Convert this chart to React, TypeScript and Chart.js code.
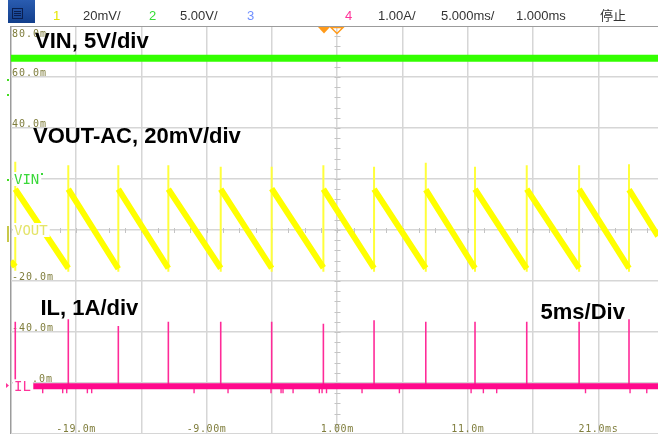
import React, { useEffect, useRef } from 'react';
import { Chart, registerables } from 'chart.js';

Chart.register(...registerables);

// ---- axes: time in ms, vertical in screen divisions ----
const timeStartMs = -24;
const timeEndMs = 25.56;
const divMin = -4;
const divMax = 4;
const gridTimesMs = [-24, -19, -14, -9, -4, 1, 6, 11, 16, 21];
const timeLabelValuesMs = [-19, -9, 1, 11, 21];
const timeLabelTexts = ['-19.0m', '-9.00m', '1.00m', '11.0m', '21.0ms'];
const scaleLabelDivs = [4, 3, 2, -1, -2, -3];
const scaleLabelTexts = ['80.0m', '60.0m', '40.0m', '-20.0m', '-40.0m', '.0m'];

// ---- header bar ----
const headerTexts = ['1', '20mV/', '2', '5.00V/', '3', '4', '1.00A/', '5.000ms/', '1.000ms', '停止'];
const headerColors = ['#e6e600', '#333333', '#33dd33', '#333333', '#6f8fff', '#ff3399', '#333333', '#333333', '#333333', '#333333'];

// ---- annotations ----
const annotationTexts = ['VIN, 5V/div', 'VOUT-AC, 20mV/div', 'IL, 1A/div', '5ms/Div'];

// ---- VIN (CH2) ----
const vinLevelDiv = 3.37;

// ---- VOUT ripple (CH1) ----
const switchTimesMs = [-23.65, -19.59, -15.76, -11.93, -7.92, -4.02, -0.06, 3.82, 7.78, 11.55, 15.51, 19.52, 23.34];
const voutSpikeTopDiv = [1.34, 1.27, 1.27, 1.27, 1.24, 1.24, 1.27, 1.24, 1.32, 1.24, 1.27, 1.27, 1.29];
const voutSpikeBottomDiv = [-0.8, -0.82, -0.82, -0.82, -0.82, -0.82, -0.82, -0.82, -0.82, -0.82, -0.82, -0.82, -0.82];
const voutPeakDiv = [0.8, 0.8, 0.8, 0.8, 0.8, 0.81, 0.8, 0.8, 0.79, 0.8, 0.8, 0.8, 0.79];
const voutValleyDiv = [-0.72, -0.75, -0.76, -0.75, -0.75, -0.75, -0.74, -0.75, -0.75, -0.75, -0.76, -0.75, -0.75];
const voutStartDiv = -0.61;
const voutEndDiv = -0.12;

// ---- IL (CH4) ----
const ilBaseStartMs = -22.27;
const ilBaseDiv = -3.065;
const ilPeakDiv = [-1.8, -1.75, -1.88, -1.8, -1.8, -1.8, -1.84, -1.77, -1.8, -1.8, -1.8, -1.8, -1.75];
const ilDipTimesMs = [-21.55, -20.02, -19.71, -18.13, -17.8, -9.96, -7.36, -4.07, -3.3, -3.15, -2.38, -0.37, -0.16, 0.18, 2.9, 5.76, 11.25, 12.19, 13.21, 20.01, 23.42, 24.7];
const ilDipDiv = -3.2;

const GRID = '#d6d6d6';
const BORDER = '#9c9c9c';
const OLIVE = '#7f7d3c';

function drawText(ctx: CanvasRenderingContext2D, s: string, x: number, y: number, font: string, color: string, align: CanvasTextAlign = 'left', spacing = '0px') {
  ctx.save();
  ctx.font = font;
  ctx.fillStyle = color;
  ctx.textAlign = align;
  ctx.textBaseline = 'alphabetic';
  (ctx as any).letterSpacing = spacing;
  ctx.fillText(s, x, y);
  ctx.restore();
}

const scopePlugin = {
  id: 'scopeDecor',
  beforeDatasetsDraw(chart: any) {
    const ctx: CanvasRenderingContext2D = chart.ctx;
    const xs = chart.scales.x;
    const ys = chart.scales.y;
    const area = chart.chartArea;
    const cx = Math.round(xs.getPixelForValue(1)) + 0.5;
    const cy = Math.round(ys.getPixelForValue(0)) + 0.5;
    ctx.save();
    ctx.strokeStyle = '#c4c4c4';
    ctx.lineWidth = 1;
    ctx.beginPath();
    for (let k = 0; k <= 40; k++) {
      const py = Math.round(ys.getPixelForValue(divMin + k * 0.2)) + 0.5;
      ctx.moveTo(cx - 3, py);
      ctx.lineTo(cx + 3, py);
    }
    for (let k = 0; k <= 40; k++) {
      const px = Math.round(xs.getPixelForValue(timeStartMs + k * 1.25)) + 0.5;
      if (px > area.right) break;
      ctx.moveTo(px, cy - 2.5);
      ctx.lineTo(px, cy + 2.5);
    }
    ctx.stroke();
    ctx.restore();

    const mono = '10px "DejaVu Sans Mono"';
    scaleLabelTexts.forEach((t, i) => {
      const d = scaleLabelDivs[i];
      const gy = ys.getPixelForValue(d);
      const y = d === divMax ? gy + 10.5 : gy - 1;
      const x = t === '.0m' ? 32 : 12;
      drawText(ctx, t, x, y, mono, OLIVE, 'left', '1px');
    });
    timeLabelTexts.forEach((t, i) => {
      const x = xs.getPixelForValue(timeLabelValuesMs[i]);
      drawText(ctx, t, x, 432, mono, OLIVE, 'center', '0.6px');
    });
  },
  afterDatasetsDraw(chart: any) {
    const ctx: CanvasRenderingContext2D = chart.ctx;
    const ys = chart.scales.y;
    const chFont = '14px "DejaVu Sans Mono"';
    // channel labels with white boxes
    const chLabels = [
      { t: 'VIN', d: 1, c: '#3ad83a' },
      { t: 'VOUT', d: 0, c: '#e4e46a' },
      { t: 'IL', d: ilBaseDiv, c: '#ff3399' },
    ];
    chLabels.forEach((l) => {
      const y = ys.getPixelForValue(l.d);
      ctx.save();
      ctx.font = chFont;
      const w = ctx.measureText(l.t).width;
      ctx.fillStyle = '#ffffff';
      ctx.fillRect(13, y - 7, w + 3, 14);
      ctx.restore();
      drawText(ctx, l.t, 14, y + 5, chFont, l.c);
    });
    ctx.save();
    ctx.fillStyle = '#3ad83a';
    ctx.fillRect(41, 173, 2, 2);
    ctx.restore();

    // left-margin channel markers
    ctx.save();
    ctx.fillStyle = '#44dd22';
    ctx.fillRect(7, 79, 2, 2);
    ctx.fillRect(7, 94, 2, 2);
    ctx.fillRect(7, 179, 2, 2);
    ctx.fillStyle = '#c8c84a';
    ctx.fillRect(7, 226, 2, 16);
    ctx.fillStyle = '#ff3399';
    ctx.beginPath();
    ctx.moveTo(6, 383);
    ctx.lineTo(9, 385.5);
    ctx.lineTo(6, 388);
    ctx.fill();
    ctx.restore();

    // trigger markers
    ctx.save();
    ctx.fillStyle = '#ff9a1a';
    ctx.strokeStyle = '#ff9a1a';
    ctx.lineWidth = 1.5;
    ctx.beginPath();
    ctx.moveTo(318, 27);
    ctx.lineTo(330, 27);
    ctx.lineTo(324, 33.5);
    ctx.closePath();
    ctx.fill();
    ctx.beginPath();
    ctx.moveTo(331, 27.5);
    ctx.lineTo(343, 27.5);
    ctx.lineTo(337, 33.5);
    ctx.closePath();
    ctx.stroke();
    ctx.restore();

    // annotations
    const big = 'bold 22px "Liberation Sans", Arial, sans-serif';
    drawText(ctx, annotationTexts[0], 35, 48, big, '#000');
    drawText(ctx, annotationTexts[1], 33, 143, big, '#000');
    drawText(ctx, annotationTexts[2], 40.5, 315, big, '#000');
    drawText(ctx, annotationTexts[3], 540.5, 318.5, big, '#000');

    // header
    ctx.save();
    ctx.fillStyle = '#ffffff';
    ctx.fillRect(0, 0, 658, 26);
    ctx.strokeStyle = BORDER;
    ctx.lineWidth = 1;
    ctx.beginPath();
    ctx.moveTo(10, 26.5);
    ctx.lineTo(658, 26.5);
    ctx.stroke();
    const g = ctx.createLinearGradient(0, 0, 0, 23);
    g.addColorStop(0, '#2a5cb0');
    g.addColorStop(1, '#123f8c');
    ctx.fillStyle = g;
    ctx.fillRect(8, 0, 27, 23);
    ctx.strokeStyle = '#0a1f50';
    ctx.strokeRect(12.5, 8.5, 10, 10);
    ctx.beginPath();
    ctx.moveTo(14, 11.5); ctx.lineTo(21, 11.5);
    ctx.moveTo(14, 13.5); ctx.lineTo(21, 13.5);
    ctx.moveTo(14, 15.5); ctx.lineTo(21, 15.5);
    ctx.stroke();
    ctx.restore();
    const hx = [53, 83, 149, 180, 247, 345, 378, 441, 516, 600];
    headerTexts.forEach((t, i) => {
      const f = t === '停止' ? '13px "Noto Sans CJK SC", sans-serif' : '13px "Liberation Sans", Arial, sans-serif';
      drawText(ctx, t, hx[i], 19.5, f, headerColors[i]);
    });
  },
};

function buildRamp() {
  const pts: any[] = [];
  pts.push({ x: timeStartMs, y: voutStartDiv }, { x: switchTimesMs[0], y: voutValleyDiv[0] }, { x: switchTimesMs[0], y: null });
  for (let i = 0; i < switchTimesMs.length; i++) {
    const endX = i + 1 < switchTimesMs.length ? switchTimesMs[i + 1] : timeEndMs;
    const endY = i + 1 < switchTimesMs.length ? voutValleyDiv[i + 1] : voutEndDiv;
    pts.push({ x: switchTimesMs[i], y: voutPeakDiv[i] }, { x: endX, y: endY }, { x: endX, y: null });
  }
  return pts;
}

function buildVoutSpikes() {
  const pts: any[] = [];
  switchTimesMs.forEach((t, i) => {
    pts.push({ x: t, y: voutSpikeBottomDiv[i] }, { x: t, y: voutSpikeTopDiv[i] }, { x: t, y: null });
  });
  return pts;
}

function buildIlSpikes() {
  const pts: any[] = [];
  switchTimesMs.forEach((t, i) => {
    pts.push({ x: t, y: ilBaseDiv }, { x: t, y: ilPeakDiv[i] }, { x: t, y: null });
  });
  return pts;
}

function buildIlDips() {
  const pts: any[] = [];
  ilDipTimesMs.forEach((t) => {
    pts.push({ x: t, y: ilBaseDiv }, { x: t, y: ilDipDiv }, { x: t, y: null });
  });
  return pts;
}

export default function App() {
  const ref = useRef<HTMLCanvasElement>(null);
  useEffect(() => {
    document.body.style.margin = '0';
    const canvas = ref.current;
    if (!canvas) return;
    const chart = new Chart(canvas, {
      type: 'line',
      data: {
        datasets: [
          { label: 'VIN', data: [{ x: timeStartMs, y: vinLevelDiv }, { x: timeEndMs, y: vinLevelDiv }], borderColor: '#33ff00', borderWidth: 7, order: 1 },
          { label: 'VOUT ramp', data: buildRamp(), borderColor: '#ffff00', borderWidth: 6, spanGaps: false, order: 2 },
          { label: 'VOUT spikes', data: buildVoutSpikes(), borderColor: '#ffff3a', borderWidth: 2, spanGaps: false, order: 3 },
          { label: 'IL base', data: [{ x: ilBaseStartMs, y: ilBaseDiv }, { x: timeEndMs, y: ilBaseDiv }], borderColor: '#ff0a8c', borderWidth: 6, order: 4 },
          { label: 'IL spikes', data: buildIlSpikes(), borderColor: '#ff2a98', borderWidth: 1.6, spanGaps: false, order: 5 },
          { label: 'IL dips', data: buildIlDips(), borderColor: '#ff2a98', borderWidth: 1.4, spanGaps: false, order: 6 },
        ] as any,
      },
      options: {
        responsive: false,
        animation: false,
        devicePixelRatio: 1,
        layout: { padding: { left: 10.7, top: 26, right: 0, bottom: 0 } },
        plugins: { legend: { display: false }, tooltip: { enabled: false } },
        elements: { point: { radius: 0 }, line: { tension: 0, borderCapStyle: 'butt', borderJoinStyle: 'miter' } },
        scales: {
          x: {
            type: 'linear',
            min: timeStartMs,
            max: timeEndMs,
            afterBuildTicks: (axis: any) => {
              axis.ticks = gridTimesMs.map((v) => ({ value: v }));
            },
            ticks: { display: false },
            grid: {
              drawTicks: false,
              color: (c: any) => (c.tick && c.tick.value === timeStartMs ? BORDER : GRID),
              lineWidth: (c: any) => (c.tick && c.tick.value === timeStartMs ? 1.5 : 1.5),
            },
            border: { display: false },
          },
          y: {
            type: 'linear',
            min: divMin,
            max: divMax,
            ticks: { display: false, stepSize: 1 },
            grid: {
              drawTicks: false,
              color: (c: any) => (c.tick && c.tick.value === divMax ? BORDER : GRID),
              lineWidth: 1.5,
            },
            border: { display: false },
          },
        },
      } as any,
      plugins: [scopePlugin],
    });
    return () => chart.destroy();
  }, []);
  return (
    <div style={{ position: 'fixed', left: 0, top: 0, width: 658, height: 434, background: '#ffffff', overflow: 'hidden' }}>
      <canvas ref={ref} width={658} height={434} style={{ display: 'block', width: 658, height: 434 }} />
    </div>
  );
}
